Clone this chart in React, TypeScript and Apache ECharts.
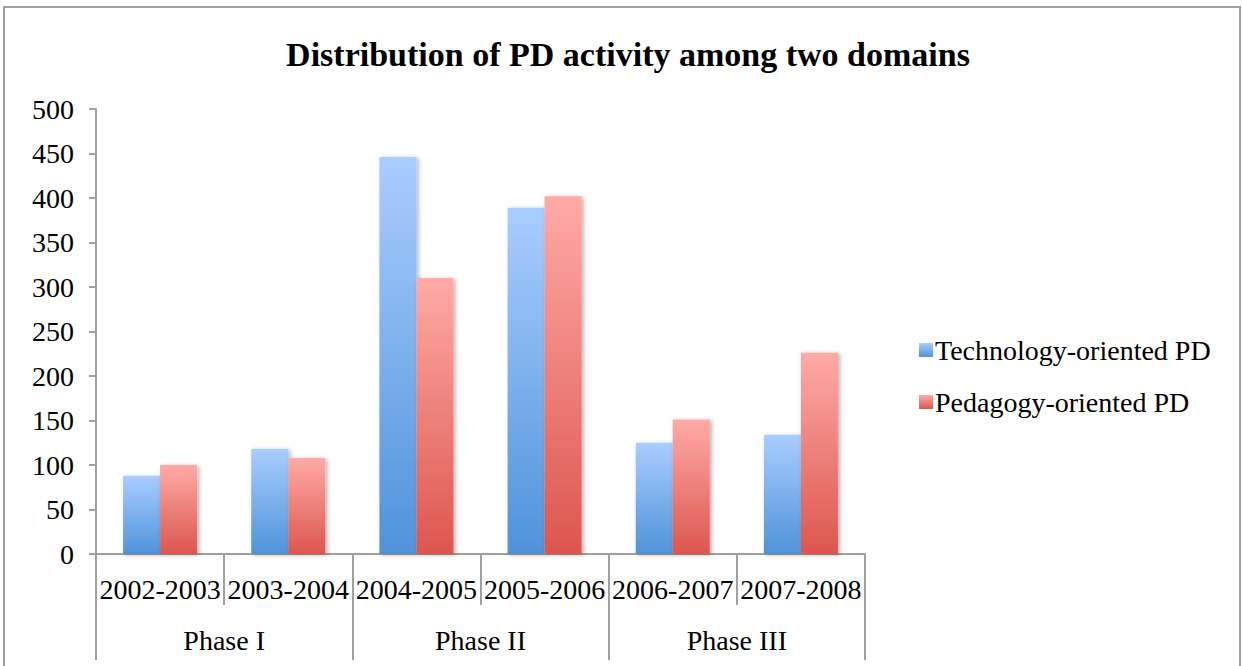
import React, { useEffect, useRef } from "react";
import * as echarts from "echarts";

const years = ["2002-2003", "2003-2004", "2004-2005", "2005-2006", "2006-2007", "2007-2008"];
const phases = ["Phase I", "Phase II", "Phase III"];
const techValues = [88, 118, 446, 389, 125, 134];
const pedValues = [100, 108, 310, 402, 151, 226];
const seriesNames = ["Technology-oriented PD", "Pedagogy-oriented PD"];
const titleText = "Distribution of PD activity among two domains";

const FONT = "'Liberation Serif', 'Times New Roman', serif";

export default function App() {
  const ref = useRef<HTMLDivElement>(null);
  useEffect(() => {
    if (!ref.current) return;
    const chart = echarts.init(ref.current, null, { renderer: "svg" });
    const grad = (top: string, bottom: string) =>
      new echarts.graphic.LinearGradient(0, 0, 0, 1, [
        { offset: 0, color: top },
        { offset: 1, color: bottom },
      ]);
    const axisColor = "#a0a0a0";
    chart.setOption({
      animation: false,
      backgroundColor: "#ffffff",
      textStyle: { fontFamily: FONT, color: "#000" },
      title: {
        text: titleText,
        left: 623,
        textAlign: "center",
        top: 32,
        textStyle: { fontFamily: FONT, fontSize: 34, fontWeight: "bold", color: "#000" },
      },
      graphic: [
        {
          type: "rect",
          shape: { x: 4, y: 7, width: 1236, height: 720 },
          style: { fill: "none", stroke: axisColor, lineWidth: 2 },
          silent: true,
          z: -1,
        },
      ],
      legend: {
        orient: "vertical",
        left: 914,
        top: 331,
        itemWidth: 14,
        itemHeight: 14,
        itemGap: 24,
        icon: "rect",
        data: seriesNames,
        textStyle: { fontFamily: FONT, fontSize: 28, color: "#000", lineHeight: 28, padding: [0, 0, 0, -3] },
      },
      grid: { left: 96, right: 378, top: 109, bottom: 112, containLabel: false },
      xAxis: [
        {
          type: "category",
          data: years,
          position: "bottom",
          axisLine: { show: true, lineStyle: { color: axisColor, width: 2 } },
          axisTick: { show: true, interval: 0, length: 51, lineStyle: { color: axisColor, width: 2 } },
          axisLabel: { interval: 0, hideOverlap: false, fontFamily: FONT, fontSize: 28, color: "#000", margin: 21 },
        },
        {
          type: "category",
          data: phases,
          position: "bottom",
          offset: 0,
          axisLine: { show: false },
          axisTick: { show: true, interval: 0, length: 106, lineStyle: { color: axisColor, width: 2 } },
          axisLabel: { interval: 0, fontFamily: FONT, fontSize: 28, color: "#000", margin: 72 },
        },
      ],
      yAxis: {
        type: "value",
        min: 0,
        max: 500,
        interval: 50,
        axisLine: { show: true, lineStyle: { color: axisColor, width: 2 } },
        axisTick: { show: true, length: 7, lineStyle: { color: axisColor, width: 2 } },
        axisLabel: { fontFamily: FONT, fontSize: 28, color: "#000", margin: 22 },
        splitLine: {
          show: true,
          lineStyle: {
            color: axisColor,
            width: 2,
            shadowColor: "rgba(0,0,0,0.2)",
            shadowBlur: 2,
            shadowOffsetY: 1,
          },
        },
      },
      series: [
        {
          name: seriesNames[0],
          type: "bar",
          xAxisIndex: 0,
          data: techValues,
          barWidth: 37,
          barGap: "0%",
          itemStyle: {
            color: grad("#a9cdff", "#4f93da"),
            shadowColor: "rgba(0,0,0,0.3)",
            shadowBlur: 4,
            shadowOffsetX: 2,
            shadowOffsetY: 1,
          },
        },
        {
          name: seriesNames[1],
          type: "bar",
          xAxisIndex: 0,
          data: pedValues,
          barWidth: 37,
          barGap: "0%",
          itemStyle: {
            color: grad("#ffaaa7", "#dc564e"),
            shadowColor: "rgba(0,0,0,0.3)",
            shadowBlur: 4,
            shadowOffsetX: 2,
            shadowOffsetY: 1,
          },
        },
      ],
    });
    return () => chart.dispose();
  }, []);
  return (
    <div
      ref={ref}
      style={{ position: "fixed", left: 0, top: 0, width: 1243, height: 666 }}
    />
  );
}
